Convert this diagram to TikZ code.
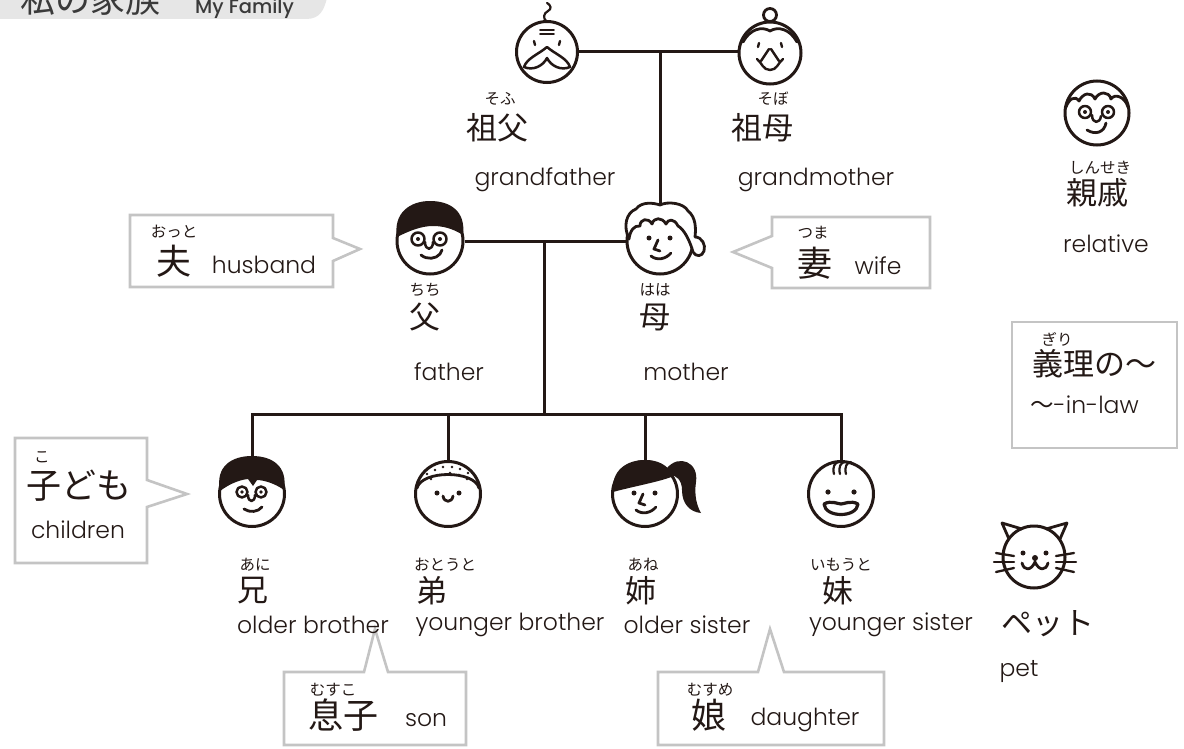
\documentclass[tikz,border=0pt]{standalone}
\usepackage{fontspec}
\setmainfont{Poppins}[UprightFont={* Light}, BoldFont={* Medium}]
\newfontfamily\jp{Noto Sans CJK JP}
\definecolor{inkc}{HTML}{231815}
\definecolor{boxgray}{HTML}{C4C4C4}
\definecolor{tabgray}{HTML}{E6E6E6}
\definecolor{titlec}{HTML}{3A3A3A}
\tikzset{
  ink/.style={draw=inkc, line width=2.8pt, line cap=round, line join=round},
  thin ink/.style={draw=inkc, line width=1.6pt, line cap=round},
  head/.style={circle, draw=inkc, line width=3pt, minimum size=#1, inner sep=0pt, fill=white},
  conn/.style={draw=inkc, line width=3pt},
  callout/.style={draw=boxgray, line width=2.6pt, fill=white, line join=miter},
  furi/.style={font=\jp\fontsize{15.5}{15.5}\selectfont, text=inkc, inner sep=0pt},
  kanji/.style={font=\jp\fontsize{31}{31}\selectfont, text=inkc, inner sep=0pt},
  bigkanji/.style={font=\jp\fontsize{35}{35}\selectfont, text=inkc, inner sep=0pt},
  eng/.style={font=\fontsize{23.5}{23.5}\selectfont, text=inkc, inner sep=0pt},
}
\begin{document}
\begin{tikzpicture}[x=1pt,y=-1pt]
\useasboundingbox (0,0) rectangle (1184,749);
\clip (0,0) rectangle (1184,749);
\fill[white] (0,0) rectangle (1184,749);

% title tab
\fill[tabgray] (0,-2) -- (327,-2) .. controls (324,10) and (320,19) .. (306,19) -- (0,19) -- cycle;
\node[anchor=base west, inner sep=0pt, text=titlec, font=\jp\fontsize{35}{35}\selectfont] (ttl) at (20,13) {私の家族};
\node[anchor=base west, inner sep=0pt, text=titlec, font=\bfseries\fontsize{19.5}{19.5}\selectfont] (ttlen) at (195,14) {My Family};

% ---------- heads ----------
\node[head=61pt] (gf) at (547,52) {};
\node[head=62pt] (gm) at (770,53) {};
\node[head=66pt] (fa) at (430,241) {};
\node[head=66pt] (mo) at (660,241) {};
\node[head=65pt] (ob) at (252,494) {};
\node[head=65pt] (yb) at (448,494) {};
\node[head=65pt] (os) at (645,494) {};
\node[head=65pt] (ys) at (841,494) {};
\node[head=64pt] (rel) at (1097,113) {};
\node[head=62pt] (cat) at (1034,557) {};

% ---------- family tree connectors ----------
\coordinate (gpj) at (660,52);
\coordinate (pj) at (544,241);
\coordinate (cj) at (544,414);
\draw[conn] (gf.east) -- (gf.east -| gm.west);
\draw[conn] (gpj) -- (mo.north);
\draw[conn] (fa.east) -- (mo.west);
\draw[conn] (pj) -- (cj);
\draw[conn] (ob.north) -- (ob.north |- cj) -- (ys.north |- cj) -- (ys.north);
\draw[conn] (yb.north) -- (yb.north |- cj);
\draw[conn] (os.north) -- (os.north |- cj);

% ---------- grandfather ----------
\begin{scope}[shift={(547,52)}]
  \draw[ink, line width=2.2pt] (0,-30) .. controls (-5,-34) and (-3,-39) .. (1,-41) .. controls (5,-43) and (4,-47) .. (0,-49);
  \draw[thin ink] (-7,-22) -- (7,-22);
  \draw[thin ink] (-7,-18) -- (7,-18);
  \draw[ink, line width=2.4pt] (-13,-11) -- (-12,-7);
  \draw[ink, line width=2.4pt] (13,-11) -- (12,-7);
  \draw[ink, line width=2.5pt] (0,-5) .. controls (-8,2) and (-20,6) .. (-23,15) .. controls (-14,19) and (-4,14) .. (0,6)
             .. controls (4,14) and (14,19) .. (23,15) .. controls (20,6) and (8,2) .. (0,-5) -- cycle;
\end{scope}

% ---------- grandmother ----------
\begin{scope}[shift={(770,53)}]
  \draw[ink, fill=white] (0,-38) circle[radius=6.5];
  \draw[ink] (-27,-11) .. controls (-20,-24) and (-8,-27) .. (0,-22) .. controls (8,-27) and (20,-24) .. (27,-11);
  \draw[ink, line width=2.4pt] (-11,-10) -- (-12,-6);
  \draw[ink, line width=2.4pt] (11,-10) -- (12,-6);
  \draw[ink, line width=2.4pt] (-1,-4) -- (-9,8);
  \draw[ink, line width=2.4pt] (1,-4) -- (9,8);
  \draw[ink, line width=2.4pt] (-13,6) .. controls (-8,10) and (-7,17) .. (0,17) .. controls (7,17) and (8,10) .. (13,6);
\end{scope}

% ---------- father ----------
\begin{scope}[shift={(430,241)}]
  \fill[inkc] (-33,-4) .. controls (-37,-28) and (-20,-40) .. (0,-40) .. controls (20,-40) and (36,-30) .. (33,-6)
              .. controls (22,-13) and (12,-15) .. (3,-15) .. controls (-9,-15) and (-21,-10) .. (-33,-4) -- cycle;
  \draw[ink, line width=2.5pt] (-12,-2) circle[radius=6.5];
  \draw[ink, line width=2.5pt] (10,-2) circle[radius=6.5];
  \fill[inkc] (-12,-2) circle[radius=2];
  \fill[inkc] (10,-2) circle[radius=2];
  \draw[ink, line width=2.5pt] (-5,1) .. controls (-5,10) and (3,10) .. (3,1);
  \draw[ink] (-9,14) .. controls (-3,19) and (6,18) .. (10,13) -- (12,9);
\end{scope}

% ---------- mother ----------
\begin{scope}[shift={(660,241)}]
  \draw[ink, fill=white] (-31,-2) .. controls (-37,-15) and (-34,-28) .. (-24,-32)
     .. controls (-18,-40) and (-6,-38) .. (0,-36)
     .. controls (8,-40) and (24,-38) .. (28,-30)
     .. controls (36,-24) and (36,-12) .. (35,-4)
     .. controls (42,-4) and (46,4) .. (44,10)
     .. controls (42,16) and (36,16) .. (33,11)
     .. controls (30,0) and (24,-12) .. (18,-15)
     .. controls (14,-23) and (8,-22) .. (6,-17)
     .. controls (2,-24) and (-6,-24) .. (-8,-17)
     .. controls (-12,-24) and (-20,-22) .. (-20,-15)
     .. controls (-26,-16) and (-30,-10) .. (-31,-2) -- cycle;
  \fill[inkc] (-11,-3) circle[radius=2.5];
  \fill[inkc] (10,-3) circle[radius=2.5];
  \draw[ink] (-2,-1) -- (-6,8) -- (0,10);
  \draw[ink] (-9,15) .. controls (-3,20) and (6,18) .. (11,12);
\end{scope}

% ---------- older brother ----------
\begin{scope}[shift={(252,494)}]
  \fill[inkc] (-32,-3) .. controls (-37,-28) and (-20,-38) .. (0,-38) .. controls (20,-38) and (36,-28) .. (32,-4)
              .. controls (24,-10) and (12,-14) .. (5,-14) -- (1,-8) -- (-4,-15) .. controls (-14,-14) and (-24,-9) .. (-32,-3) -- cycle;
  \draw[ink, line width=2.5pt] (-10,-2) circle[radius=5.5];
  \draw[ink, line width=2.5pt] (9,-2) circle[radius=5.5];
  \fill[inkc] (-10,-2) circle[radius=1.8];
  \fill[inkc] (9,-2) circle[radius=1.8];
  \draw[ink, line width=2.5pt] (-4,1) .. controls (-4,9) and (3,9) .. (3,1);
  \draw[ink] (-8,15) .. controls (-2,19) and (6,18) .. (10,13);
\end{scope}

% ---------- younger brother ----------
\begin{scope}[shift={(448,494)}]
  \draw[ink] (-31,-6) .. controls (-26,-24) and (26,-24) .. (31,-6);
  \foreach \p in {(-21,-20),(-13,-24),(-5,-27),(4,-27),(12,-25),(20,-21),(-17,-15),(-8,-19),(2,-21),(11,-19),(19,-15)}
    \fill[inkc] \p circle[radius=1.4];
  \fill[inkc] (-11,-1) circle[radius=2.5];
  \fill[inkc] (11,-1) circle[radius=2.5];
  \draw[ink] (-5,2) .. controls (-4,9) and (4,9) .. (5,2);
\end{scope}

% ---------- older sister ----------
\begin{scope}[shift={(645,494)}]
  \fill[inkc] (22,-26) .. controls (34,-40) and (54,-32) .. (51,-12) .. controls (49,2) and (52,12) .. (56,19)
              .. controls (45,18) and (37,10) .. (37,-4) .. controls (37,-14) and (31,-19) .. (25,-19) -- cycle;
  \fill[inkc] (-32,-2) .. controls (-34,-24) and (-18,-34) .. (0,-34) .. controls (12,-34) and (22,-30) .. (29,-18)
              .. controls (14,-12) and (-10,-8) .. (-32,-2) -- cycle;
  \fill[inkc] (-11,-1) circle[radius=2.5];
  \fill[inkc] (10,-1) circle[radius=2.5];
  \draw[ink] (-2,0) -- (-6,9) -- (0,11);
  \draw[ink] (-9,16) .. controls (-3,21) and (6,19) .. (11,13);
\end{scope}

% ---------- younger sister ----------
\begin{scope}[shift={(841,494)}]
  \foreach \s in {-7,-1,5}
    \draw[ink, line width=2.2pt] (\s,-20) .. controls (\s-2,-27) and (\s+1,-32) .. (\s+5,-32);
  \fill[inkc] (-13,-2) circle[radius=2.6];
  \fill[inkc] (13,-2) circle[radius=2.6];
  \draw[ink, line width=3.2pt] (-17,10) .. controls (-10,6) and (-3,10) .. (0,10) .. controls (3,10) and (10,6) .. (17,10)
        .. controls (16,24) and (-16,24) .. (-17,10) -- cycle;
\end{scope}

% ---------- relative ----------
\begin{scope}[shift={(1097,113)}]
  \draw[ink] (-31,-6) .. controls (-28,-14) and (-22,-18) .. (-18,-12) .. controls (-14,-20) and (-6,-22) .. (-2,-14)
             .. controls (2,-22) and (12,-22) .. (14,-14) .. controls (18,-20) and (28,-16) .. (31,-6);
  \draw[ink, line width=2.5pt] (-12,-1) circle[radius=6];
  \draw[ink, line width=2.5pt] (11,-1) circle[radius=6];
  \fill[inkc] (-12,-1) circle[radius=2];
  \fill[inkc] (11,-1) circle[radius=2];
  \draw[ink, line width=2.5pt] (-5,2) .. controls (-5,11) and (3,11) .. (4,3);
  \draw[ink] (-10,17) .. controls (-2,22) and (7,20) .. (9,10);
\end{scope}

% ---------- cat ----------
\begin{scope}[shift={(1034,557)}]
  \draw[ink] (-25,-18) -- (-32,-34) -- (-12,-28);
  \draw[ink] (12,-28) -- (33,-34) -- (26,-18);
  \fill[inkc] (-11,-4) circle[radius=2.5];
  \fill[inkc] (12,-4) circle[radius=2.5];
  \fill[inkc] (1,1) circle[radius=3];
  \draw[ink] (1,1) -- (1,5);
  \draw[ink] (-12,6) .. controls (-10,14) and (-3,14) .. (1,5) .. controls (5,14) and (12,14) .. (14,6);
  \draw[ink, line width=2.3pt] (-20,-1) -- (-38,-4);
  \draw[ink, line width=2.3pt] (-20,5) -- (-40,5);
  \draw[ink, line width=2.3pt] (-20,11) -- (-38,15);
  \draw[ink, line width=2.3pt] (22,-1) -- (40,-4);
  \draw[ink, line width=2.3pt] (22,5) -- (42,5);
  \draw[ink, line width=2.3pt] (22,11) -- (40,15);
\end{scope}

% ---------- callout boxes ----------
\draw[callout] (130,215) -- (333,215) -- (333,238) -- (360,249) -- (333,261) -- (333,287) -- (130,287) -- cycle;
\draw[callout] (772,217) -- (930,217) -- (930,288) -- (772,288) -- (772,268) -- (733,252) -- (772,236) -- cycle;
\draw[callout] (15,438) -- (147,438) -- (147,480) -- (187,494) -- (147,507) -- (147,563) -- (15,563) -- cycle;
\draw[callout] (284,672) -- (364,672) -- (375,629) -- (388,672) -- (466,672) -- (466,745) -- (284,745) -- cycle;
\draw[callout] (658,672) -- (758,672) -- (770,629) -- (784,672) -- (884,672) -- (884,745) -- (658,745) -- cycle;
\draw[callout] (1012,322) rectangle (1177,448);

% ---------- labels ----------
\node[furi] (t1) at (500,99) {そふ};
\node[kanji] (t2) at (497,128) {祖父};
\node[eng] (t3) at (545,180) {grandfather};
\node[furi] (t4) at (773,99) {そぼ};
\node[kanji] (t5) at (762,128) {祖母};
\node[eng] (t6) at (816,180) {grandmother};

\node[furi] (t7) at (425,290) {ちち};
\node[kanji] (t8) at (425,317) {父};
\node[eng] (t9) at (449,372) {father};
\node[furi] (t10) at (655,290) {はは};
\node[kanji] (t11) at (655,317) {母};
\node[eng] (t12) at (686,372) {mother};

\node[furi] (t13) at (174,232) {おっと};
\node[bigkanji] (t14) at (174,261) {夫};
\node[eng] (t15) at (264,265) {husband};
\node[furi] (t16) at (813,233) {つま};
\node[bigkanji] (t17) at (815,263) {妻};
\node[eng] (t18) at (878,266) {wife};

\node[furi] (t19) at (42,457) {こ};
\node[bigkanji] (t20) at (79,486) {子ども};
\node[eng] (t21) at (78,530) {children};

\node[furi] (t22) at (255,565) {あに};
\node[kanji] (t23) at (253,591) {兄};
\node[eng] (t24) at (313,625) {older brother};
\node[furi] (t25) at (445,565) {おとうと};
\node[kanji] (t26) at (432,591) {弟};
\node[eng] (t27) at (510,625) {younger brother};
\node[furi] (t28) at (643,565) {あね};
\node[kanji] (t29) at (641,591) {姉};
\node[eng] (t30) at (687,625) {older sister};
\node[furi] (t31) at (841,565) {いもうと};
\node[kanji] (t32) at (838,591) {妹};
\node[eng] (t33) at (891,625) {younger sister};

\node[kanji] (t34) at (1048,624) {ペット};
\node[eng] (t35) at (1019,672) {pet};

\node[furi] (t36) at (1100,168) {しんせき};
\node[kanji] (t37) at (1097,193) {親戚};
\node[eng] (t38) at (1106,244) {relative};

\node[furi] (t39) at (1057,339) {ぎり};
\node[kanji] (t40) at (1094,364) {義理の〜};
\node[eng, anchor=west] (t41) at (1030,405) {{\jp 〜}-in-law};

\node[furi] (t42) at (333,690) {むすこ};
\node[bigkanji] (t43) at (343,715) {息子};
\node[eng] (t44) at (426,720) {son};
\node[furi] (t45) at (710,690) {むすめ};
\node[bigkanji] (t46) at (709,715) {娘};
\node[eng] (t47) at (805,720) {daughter};
\end{tikzpicture}
\end{document}
